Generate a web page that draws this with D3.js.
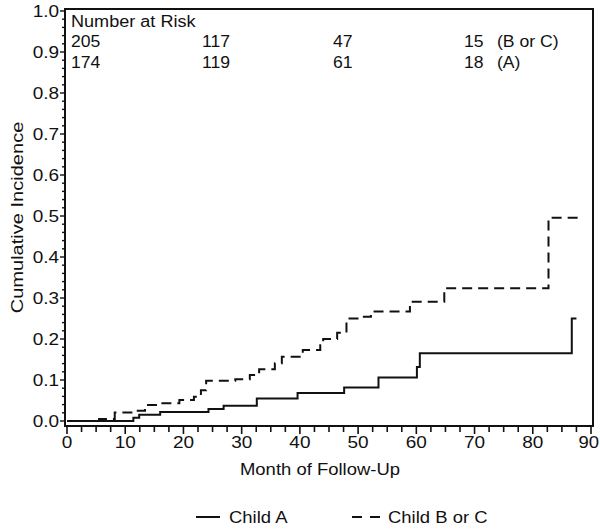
<!DOCTYPE html>
<html><head><meta charset="utf-8">
<script src="https://cdn.jsdelivr.net/npm/d3@7"></script>
<style>body{margin:0;background:#fff}svg{display:block}text{font-family:"Liberation Sans",Arial,sans-serif;fill:#111}</style>
</head><body><svg id="c" width="600" height="530"></svg>
<script>
// ---- data ----
const childA_months = [0, 11.4, 12.4, 16.0, 24.3, 26.9, 32.6, 39.6, 47.6, 53.5, 60.1, 60.6, 86.7, 87.5];
const childA_values = [0, 0.008, 0.015, 0.022, 0.029, 0.037, 0.055, 0.068, 0.082, 0.106, 0.132, 0.165, 0.25, 0.25];
const childBC_months = [0, 5.5, 8.2, 11.7, 13.4, 16.0, 19.3, 21.8, 23.0, 23.9, 28.9, 31.4, 33.0, 35.7, 36.9, 40.5, 43.5, 44.0, 46.4, 48.0, 50.5, 52.2, 58.9, 64.8, 82.7, 87.8];
const childBC_values = [0, 0.005, 0.021, 0.025, 0.039, 0.043, 0.051, 0.059, 0.075, 0.098, 0.102, 0.112, 0.126, 0.141, 0.157, 0.173, 0.185, 0.200, 0.215, 0.250, 0.254, 0.267, 0.291, 0.324, 0.496, 0.496];
const riskTimes = [0, 22.5, 45, 67.5];
const riskBC = [205, 117, 47, 15];
const riskA = [174, 119, 61, 18];
const riskLabels = ["(B or C)", "(A)"];
const xTicks = [0,10,20,30,40,50,60,70,80,90];
const yTicks = [0,0.1,0.2,0.3,0.4,0.5,0.6,0.7,0.8,0.9,1.0];
const seriesNames = ["Child A", "Child B or C"];

const svg = d3.select("#c");
const L=65, R=593, T=9, B=426;
const x = d3.scaleLinear().domain([0,90]).range([67,591]);
const y = d3.scaleLinear().domain([0,1]).range([421,11]);
const ink = "#111";

function txt(g, px, py, s, size, sx, anchor, rot){
  return g.append("text")
    .attr("transform",`translate(${px},${py})${rot?` rotate(${rot})`:""} scale(${sx},1)`)
    .attr("text-anchor",anchor||"start").attr("font-size",size).text(s);
}

// frame
svg.append("rect").attr("x",L).attr("y",T).attr("width",R-L).attr("height",B-T)
  .attr("fill","none").attr("stroke",ink).attr("stroke-width",2);

// x axis ticks
const xMinor = d3.range(0, 90.01, 2.5);
svg.append("g").selectAll("line").data(xMinor).join("line")
  .attr("x1",d=>x(d)).attr("x2",d=>x(d)).attr("y1",B)
  .attr("y2",d=> (d%10===0)?B+8:B+6).attr("stroke",ink).attr("stroke-width",1.6);
const gx = svg.append("g");
xTicks.forEach((d,i)=>{
  if (i === xTicks.length-1) txt(gx, 599, 448, d, 16.5, 1.12, "end");
  else txt(gx, x(d), 448, d, 16.5, 1.15, "middle");
});

// y axis ticks
const yMinor = d3.range(0, 1.001, 0.02);
svg.append("g").selectAll("line").data(yMinor).join("line")
  .attr("y1",d=>y(d)).attr("y2",d=>y(d)).attr("x1",L)
  .attr("x2",d=> (Math.round(d*100)%10===0)?L-5:L-3).attr("stroke",ink).attr("stroke-width",1.4);
const gy = svg.append("g");
yTicks.forEach(d=>txt(gy, L-6, y(d)+6, d.toFixed(1), 16.5, 1.15, "end"));

// axis titles
txt(svg, (L+R)/2-9, 475, "Month of Follow-Up", 16.5, 1.12, "middle");
txt(svg, 23, (T+B)/2, "Cumulative Incidence", 17, 1.18, "middle", -90);

// curves
const line = d3.line().x(d=>x(d[0])).y(d=>y(d[1])).curve(d3.curveStepAfter);
const dataA = childA_months.map((m,i)=>[m, childA_values[i]]);
const dataBC = childBC_months.map((m,i)=>[m, childBC_values[i]]);
svg.append("path").attr("d",line(dataA)).attr("fill","none").attr("stroke",ink).attr("stroke-width",2);
svg.append("path").attr("d",line(dataBC)).attr("fill","none").attr("stroke",ink).attr("stroke-width",2).attr("stroke-dasharray","10,6");

// number at risk
const gr = svg.append("g");
txt(gr, x(0)+4, 27, "Number at Risk", 16, 1.13);
[riskBC, riskA].forEach((row,ri)=>{
  row.forEach((d,i)=>txt(gr, x(riskTimes[i])+4, 47+ri*21, d, 16, 1.1));
  txt(gr, x(riskTimes[3])+37, 47+ri*21, riskLabels[ri], 16, 1.1);
});

// legend
const lg = svg.append("g");
lg.append("line").attr("x1",196).attr("x2",220).attr("y1",517).attr("y2",517).attr("stroke",ink).attr("stroke-width",2);
txt(lg, 229, 523, seriesNames[0], 16.5, 1.12);
lg.append("line").attr("x1",352).attr("x2",384).attr("y1",517).attr("y2",517).attr("stroke",ink).attr("stroke-width",2).attr("stroke-dasharray","10,8");
txt(lg, 388, 523, seriesNames[1], 16.5, 1.12);
</script></body></html>
